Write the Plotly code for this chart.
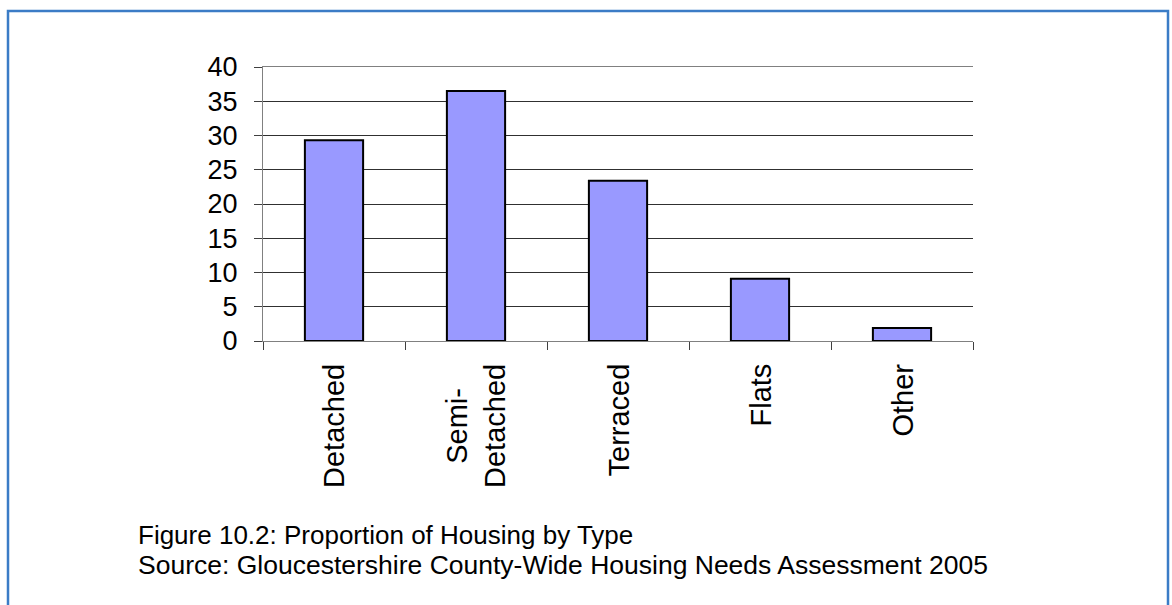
import plotly.graph_objects as go

categories = ["Detached", "Semi-Detached", "Terraced", "Flats", "Other"]
category_labels = ["Detached", "Semi-<br>Detached", "Terraced", "Flats", "Other"]
values = [29.3, 36.5, 23.4, 9.1, 1.9]
y_ticks = [0, 5, 10, 15, 20, 25, 30, 35, 40]
caption_lines = [
    "Figure 10.2: Proportion of Housing by Type",
    "Source: Gloucestershire County-Wide Housing Needs Assessment 2005",
]
caption_sizes = [26, 26.5]

W, H = 1172, 605
L, R, T, B = 263, 973, 67, 341  # plot area in pixels

def px(x):
    return (x - L) / (R - L)

def py(y):
    return (B - y) / (B - T)

FONT = "Arial, 'Liberation Sans', sans-serif"

fig = go.Figure()
fig.add_trace(go.Bar(
    x=categories, y=values,
    marker=dict(color="#9999FF", line=dict(color="#000000", width=2)),
    showlegend=False, hoverinfo="x+y",
))

annotations = []
for cat, lab in zip(categories, category_labels):
    annotations.append(dict(
        x=cat, xref="x", y=py(362), yref="paper",
        text=lab, textangle=-90, showarrow=False,
        xanchor="center", yanchor="top", align="center",
        font=dict(family=FONT, size=29, color="#000000"),
    ))
for i, (line, sz) in enumerate(zip(caption_lines, caption_sizes)):
    annotations.append(dict(
        x=px(136), xref="paper", y=py(535 + 30 * i), yref="paper",
        text=line, showarrow=False, xanchor="left", yanchor="middle",
        font=dict(family=FONT, size=sz, color="#000000"),
    ))

fig.update_layout(
    width=W, height=H,
    margin=dict(l=L, r=W - R, t=T, b=H - B, pad=0),
    paper_bgcolor="#FFFFFF", plot_bgcolor="#FFFFFF",
    bargap=0.59,
    font=dict(family=FONT, color="#000000"),
    annotations=annotations,
    shapes=[dict(
        type="rect", xref="paper", yref="paper",
        x0=px(8), x1=px(1168), y0=py(11), y1=py(620),
        line=dict(color="#3B7CC6", width=2.5), fillcolor="rgba(0,0,0,0)",
        layer="below",
    )],
)
fig.update_xaxes(
    type="category", range=[-0.5, len(categories) - 0.5],
    showticklabels=False, showgrid=False,
    showline=True, linecolor="#808080", linewidth=1, mirror=True,
    ticks="outside", tickson="boundaries", ticklen=8, tickcolor="#404040", tickwidth=1,
    zeroline=False,
)
fig.update_yaxes(
    range=[0, 40], tickvals=y_ticks,
    showgrid=True, gridcolor="#303030", gridwidth=1,
    showline=True, linecolor="#808080", linewidth=1,
    ticks="outside", ticklen=8, tickcolor="#404040", tickwidth=1,
    tickfont=dict(family=FONT, size=27, color="#000000"),
    ticklabelstandoff=11,
    zeroline=False,
)

fig.write_html(
    "out.html",
    config={"displayModeBar": False},
    post_script="document.body.style.margin='0';document.body.style.overflow='hidden';",
)
